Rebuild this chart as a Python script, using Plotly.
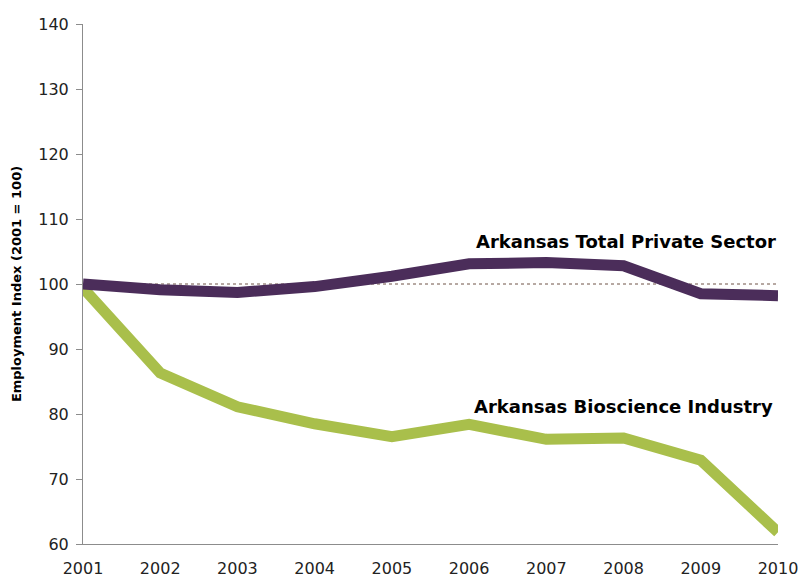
import plotly.graph_objects as go

years = [2001, 2002, 2003, 2004, 2005, 2006, 2007, 2008, 2009, 2010]
total_private = [100.0, 99.1, 98.7, 99.6, 101.2, 103.1, 103.3, 102.8, 98.5, 98.2]
bioscience = [99.4, 86.3, 81.1, 78.5, 76.5, 78.4, 76.1, 76.3, 72.9, 61.8]
baseline = [100, 100, 100, 100, 100, 100, 100, 100, 100, 100]

PURPLE = "#4B2D5A"
GREEN = "#A9BF4B"
FONT = "Verdana, DejaVu Sans, sans-serif"

fig = go.Figure()
fig.add_trace(go.Scatter(x=years, y=baseline, mode="lines",
                         line=dict(color="#6E5247", width=1, dash="dot"),
                         hoverinfo="skip", showlegend=False))
fig.add_trace(go.Scatter(x=years, y=bioscience, mode="lines",
                         name="Arkansas Bioscience Industry",
                         line=dict(color=GREEN, width=11), showlegend=False))
fig.add_trace(go.Scatter(x=years, y=total_private, mode="lines",
                         name="Arkansas Total Private Sector",
                         line=dict(color=PURPLE, width=11), showlegend=False))

fig.add_annotation(x=2010, y=106.6, xref="x", yref="y", xanchor="right",
                   yanchor="middle", showarrow=False, xshift=0,
                   text="<b>Arkansas Total Private Sector</b>",
                   font=dict(family=FONT, size=18, color="#000000"))
fig.add_annotation(x=2010, y=81.2, xref="x", yref="y", xanchor="right",
                   yanchor="middle", showarrow=False, xshift=-3,
                   text="<b>Arkansas Bioscience Industry</b>",
                   font=dict(family=FONT, size=18, color="#000000"))

fig.update_layout(
    width=799, height=577,
    margin=dict(l=83, r=21, t=24, b=33, autoexpand=False),
    paper_bgcolor="white", plot_bgcolor="white",
    font=dict(family=FONT, size=16, color="#222222"),
    xaxis=dict(range=[2001, 2010], tickmode="array", tickvals=years,
               ticks="outside", ticklen=10, tickcolor="rgba(0,0,0,0)",
               showgrid=False, zeroline=False, automargin=False,
               showline=True, linecolor="#8C8C8C", linewidth=1,
               tickfont=dict(size=16)),
    yaxis=dict(range=[60, 140], dtick=10, ticks="outside", ticklen=6,
               tickcolor="#8C8C8C", showgrid=False, zeroline=False,
               automargin=False, ticklabelstandoff=4,
               showline=True, linecolor="#8C8C8C", linewidth=1,
               tickfont=dict(size=16),
               title=dict(text="<b>Employment Index (2001 = 100)</b>",
                          font=dict(size=13, color="#000000"), standoff=13)),
)

fig.write_html("out.html")
